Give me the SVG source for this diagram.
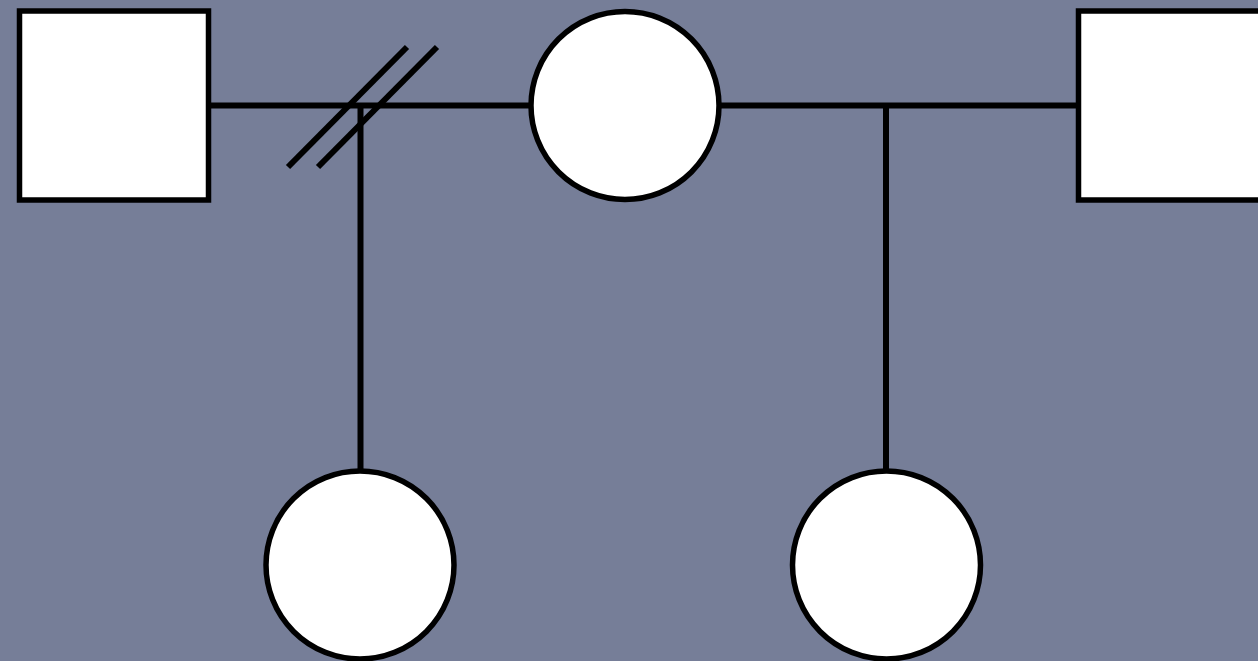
<svg xmlns="http://www.w3.org/2000/svg" width="1258" height="661" viewBox="0 0 1258 661">
<style>
.node{fill:#ffffff;stroke:#000000;stroke-width:5.5}
.edge{stroke:#000000;stroke-width:6;fill:none}
</style>
<rect width="1258" height="661" fill="#767e98"/>
<g id="connectors">
<line class="edge" x1="208" y1="105.5" x2="531" y2="105.5"/>
<line class="edge" x1="719" y1="105.5" x2="1078" y2="105.5"/>
<line class="edge" x1="360.5" y1="105.5" x2="360.5" y2="470"/>
<line class="edge" x1="886" y1="105.5" x2="886" y2="470"/>
<line class="edge" x1="288" y1="167" x2="407" y2="47"/>
<line class="edge" x1="318" y1="167" x2="437" y2="47"/>
</g>
<g id="male-left"><rect class="node" x="19.5" y="11" width="189" height="189"/></g>
<g id="female-top"><circle class="node" cx="625" cy="105.5" r="94"/></g>
<g id="male-right"><rect class="node" x="1078.5" y="11" width="189" height="189"/></g>
<g id="child-left"><circle class="node" cx="360" cy="565" r="94"/></g>
<g id="child-right"><circle class="node" cx="886.5" cy="565" r="94"/></g>
</svg>
